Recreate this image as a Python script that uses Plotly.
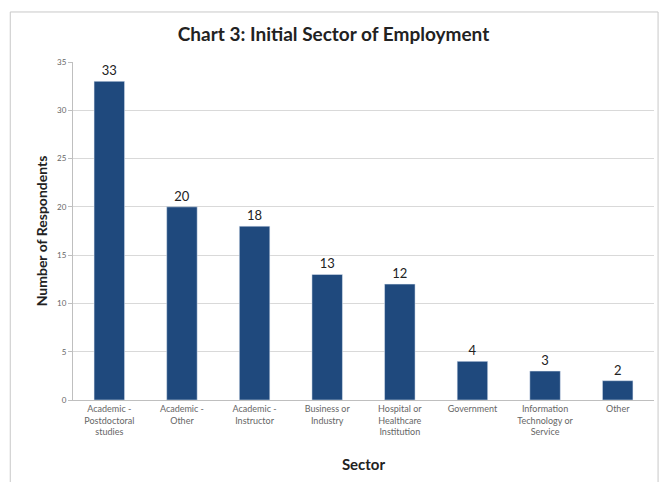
import plotly.graph_objects as go

categories = ["Academic -<br>Postdoctoral<br>studies", "Academic -<br>Other", "Academic -<br>Instructor",
              "Business or<br>Industry", "Hospital or<br>Healthcare<br>Institution", "Government",
              "Information<br>Technology or<br>Service", "Other"]
values = [33, 20, 18, 13, 12, 4, 3, 2]
y_ticks = [0, 5, 10, 15, 20, 25, 30, 35]

fig = go.Figure()
fig.add_trace(go.Bar(
    x=categories, y=values, marker_color="#1F497D",
    text=[str(v) for v in values], textposition="outside",
    textfont=dict(family="Lato, Open Sans, sans-serif", size=13, color="#222"),
    cliponaxis=False,
))

fig.update_layout(
    width=667, height=482,
    margin=dict(l=73, r=13, t=62, b=82),
    paper_bgcolor="white", plot_bgcolor="white",
    bargap=0.58,
    showlegend=False,
    title=dict(text="<b>Chart 3: Initial Sector of Employment</b>", x=0.5, xanchor="center",
               y=0.928, yanchor="middle",
               font=dict(family="Lato, Open Sans, sans-serif", size=19, color="#222")),
    font=dict(family="Lato, Open Sans, sans-serif"),
)
fig.update_yaxes(
    range=[0, 35], tickvals=y_ticks, showgrid=True, gridcolor="#D9D9D9", gridwidth=1,
    showline=True, linecolor="#BFBFBF", ticks="outside", ticklen=4, tickcolor="#BFBFBF",
    tickfont=dict(size=8, color="#666"),
    title=dict(text="<b>Number of Respondents</b>", font=dict(size=14, color="#222"), standoff=6),
    zeroline=False,
)
fig.update_xaxes(
    showline=True, linecolor="#BFBFBF", tickfont=dict(size=9, color="#666"), tickangle=0,
    title=dict(text="<b>Sector</b>", font=dict(size=15, color="#222"), standoff=23),
    ticks="",
)
fig.add_shape(type="rect", xref="paper", yref="paper", x0=-0.108, x1=1.007, y0=-0.3, y1=1.148,
              line=dict(color="#C8C8C8", width=1), fillcolor="rgba(0,0,0,0)", layer="below")

fig.write_html("out.html")
